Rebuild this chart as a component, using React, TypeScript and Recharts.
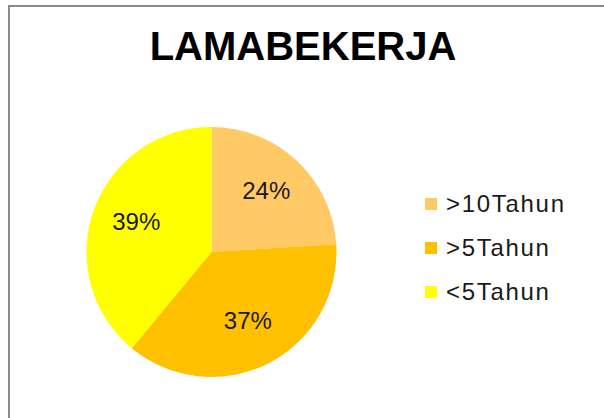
import { PieChart, Pie, Cell, Legend } from 'recharts'

const categories = ['>10Tahun', '>5Tahun', '<5Tahun']
const shares = [24, 37, 39]
const colors = ['#FFC966', '#FFC000', '#FFFF00']

const data = categories.map((name, i) => ({ name, value: shares[i] }))

const FONT = '"Liberation Sans", Arial, sans-serif'
const RADIAN = Math.PI / 180

function renderLabel({ cx, cy, midAngle, outerRadius, index }: any) {
  const r = outerRadius * 0.64
  const x = cx + r * Math.cos(-midAngle * RADIAN)
  const y = cy + r * Math.sin(-midAngle * RADIAN) - 3
  return (
    <text x={x} y={y} textAnchor="middle" dominantBaseline="central" fill="#1a1a1a" fontSize={24} fontFamily={FONT}>
      {shares[index]}%
    </text>
  )
}

function renderLegend() {
  return (
    <div>
      {categories.map((c, i) => (
        <div key={c} style={{ display: 'flex', alignItems: 'center', height: 44 }}>
          <span style={{ width: 12, height: 12, background: colors[i], marginRight: 9 }} />
          <span style={{ fontFamily: FONT, fontSize: 24, letterSpacing: 1.7, color: '#1a1a1a' }}>{c}</span>
        </div>
      ))}
    </div>
  )
}

export default function App() {
  return (
    <div style={{ position: 'fixed', left: 0, top: 0, width: 604, height: 418, overflow: 'hidden', background: '#fff' }}>
      <div style={{ position: 'absolute', left: 8, top: 5, width: 700, height: 500, border: '2px solid #8a8a8a' }} />
      <svg width={604} height={80} style={{ position: 'absolute', left: 0, top: 0 }}>
        <text x={303} y={60} textAnchor="middle" fontSize={40} fontWeight="bold" fontFamily={FONT} fill="#000">
          LAMABEKERJA
        </text>
      </svg>
      <div style={{ position: 'absolute', left: 0, top: 0 }}>
        <PieChart width={604} height={418} margin={{ top: 0, right: 0, bottom: 0, left: 0 }}>
          <Pie
            data={data}
            dataKey="value"
            nameKey="name"
            cx={211.5}
            cy={252}
            outerRadius={125}
            startAngle={90}
            endAngle={-270}
            stroke="none"
            label={renderLabel}
            labelLine={false}
            isAnimationActive={false}
          >
            {data.map((d, i) => (
              <Cell key={d.name} fill={colors[i]} />
            ))}
          </Pie>
          <Legend content={renderLegend} wrapperStyle={{ position: 'absolute', left: 425, top: 182, width: 170, height: 140 }} />
        </PieChart>
      </div>
    </div>
  )
}
